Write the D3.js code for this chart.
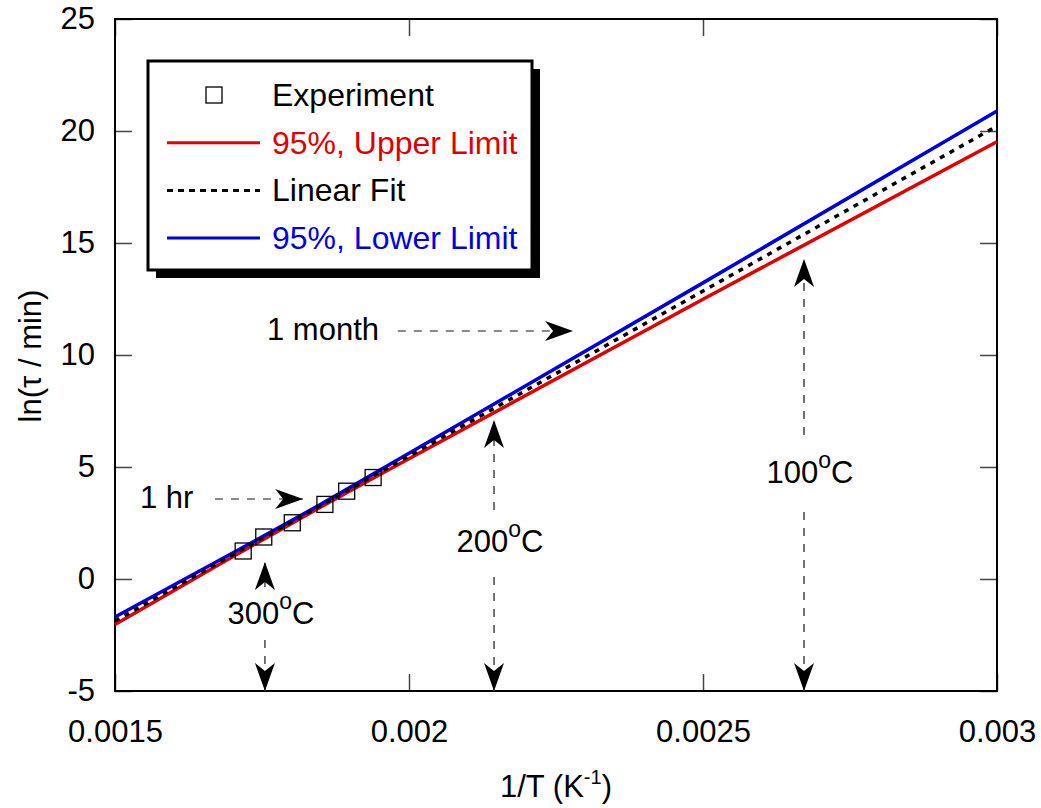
<!DOCTYPE html>
<html>
<head>
<meta charset="utf-8">
<script src="https://cdn.jsdelivr.net/npm/d3@7"></script>
<style>
  body { margin: 0; background: #fff; }
  text { font-family: "Liberation Sans", Arial, sans-serif; }
</style>
</head>
<body>
<div id="chart"></div>
<script>
// experiment points (1/T, ln tau)
const expX = [0.001718, 0.001753, 0.0018015, 0.001857, 0.001894, 0.001939];
const expY = [1.25, 1.875, 2.51, 3.33, 3.92, 4.53];

// fit and 95% bands, read at a few 1/T values
const lineX = [0.0015, 0.0017, 0.00185, 0.002, 0.0025, 0.003];
const upperY = [-2.03, 0.99, 3.22, 5.37, 12.49, 19.52];
const fitY = [-1.875, 1.071, 3.281, 5.49, 12.855, 20.22];
const lowerY = [-1.70, 1.16, 3.34, 5.61, 13.22, 20.89];

const xTicks = [0.0015, 0.002, 0.0025, 0.003];
const yTicks = [-5, 0, 5, 10, 15, 20, 25];

// horizontal annotation arrows
const hArrows = [
    {label: "1 month", textX: 0.0017585, fromX: 0.001981, toX: 0.002279, y: 11.07},
    {label: "1 hr", textX: 0.0015425, fromX: 0.00167, toX: 0.00182, y: 3.57}
];
// vertical annotation arrows (temperature markers)
const vArrows = [
    {temp: "300", x: 0.001755, top: 0.76, gapTop: -0.36, textY: -2.0, gapBottom: -2.72},
    {temp: "200", x: 0.0021446, top: 7.10, gapTop: 3.08, textY: 1.2, gapBottom: 0.09},
    {temp: "100", x: 0.0026718, top: 14.29, gapTop: 6.43, textY: 4.29, gapBottom: 2.99}
];

const legendItems = [
    {label: "Experiment", type: "square", color: "#000"},
    {label: "95%, Upper Limit", type: "line", color: "#e00000", text: "#dd0000"},
    {label: "Linear Fit", type: "dash", color: "#000"},
    {label: "95%, Lower Limit", type: "line", color: "#0000dd", text: "#0000dd"}
];

const margin = {top: 19, right: 44, bottom: 117, left: 115};
const width = 1041 - margin.left - margin.right;
const height = 808 - margin.top - margin.bottom;
const fontSize = 31;

const svg = d3.select("#chart")
              .append("svg")
              .attr("width", 1041)
              .attr("height", 808)
              .append("g")
              .attr("transform", "translate(" + margin.left + "," + margin.top + ")");

const x = d3.scaleLinear().domain([0.0015, 0.003]).range([0, width]);
const y = d3.scaleLinear().domain([-5, 25]).range([height, 0]);

// arrowhead marker
const defs = svg.append("defs");
defs.append("marker")
    .attr("id", "head")
    .attr("viewBox", "0 0 28 20")
    .attr("refX", 28)
    .attr("refY", 10)
    .attr("markerWidth", 28)
    .attr("markerHeight", 20)
    .attr("markerUnits", "userSpaceOnUse")
    .attr("orient", "auto")
    .append("path")
    .attr("d", "M0,0 L28,10 L0,20 L8,10 Z")
    .attr("fill", "#000");

// axes (ticks point inward on all four sides)
const tickLen = 17;
function styleAxis(g) {
    g.select(".domain").remove();
    g.selectAll(".tick line").attr("stroke", "#444").attr("stroke-width", 1.5);
    g.selectAll("text").attr("font-size", fontSize).attr("fill", "#000")
     .style("font-family", "'Liberation Sans', Arial, sans-serif");
}
svg.append("g")
   .attr("transform", "translate(0," + height + ")")
   .call(d3.axisBottom(x).tickValues(xTicks).tickSize(-tickLen).tickPadding(29).tickFormat(d => String(d)))
   .call(styleAxis);
svg.append("g")
   .call(d3.axisTop(x).tickValues(xTicks).tickSize(-tickLen).tickFormat(""))
   .call(styleAxis);
svg.append("g")
   .call(d3.axisLeft(y).tickValues(yTicks).tickSize(-tickLen).tickPadding(20).tickFormat(d => String(d)))
   .call(styleAxis);
svg.append("g")
   .attr("transform", "translate(" + width + ",0)")
   .call(d3.axisRight(y).tickValues(yTicks).tickSize(-tickLen).tickFormat(""))
   .call(styleAxis);

svg.append("rect")
   .attr("width", width)
   .attr("height", height)
   .attr("fill", "none")
   .attr("stroke", "#000")
   .attr("stroke-width", 2);

// axis titles
svg.append("text")
   .attr("x", width / 2)
   .attr("y", height + 106)
   .attr("text-anchor", "middle")
   .attr("font-size", fontSize)
   .text("1/T (K")
   .append("tspan")
   .attr("font-size", 20)
   .attr("dy", -13)
   .text("-1")
   .clone(true)
   .attr("font-size", fontSize)
   .attr("dy", 13)
   .text(")");

svg.append("text")
   .attr("transform", "translate(" + (30 - margin.left) + "," + (356 - margin.top) + ")rotate(-90)")
   .attr("text-anchor", "middle")
   .attr("dy", "0.35em")
   .attr("font-size", fontSize)
   .text("ln(τ / min)");

// lines
const line = d3.line().x(d => x(d[0])).y(d => y(d[1])).curve(d3.curveMonotoneX);
const plot = svg.append("g");
plot.append("path")
    .attr("d", line(d3.zip(lineX, upperY)))
    .attr("fill", "none").attr("stroke", "#e00000").attr("stroke-width", 3.5);
plot.append("path")
    .attr("d", line(d3.zip(lineX, lowerY)))
    .attr("fill", "none").attr("stroke", "#0000dd").attr("stroke-width", 3.5);
plot.append("path")
    .attr("d", line(d3.zip(lineX, fitY)))
    .attr("fill", "none").attr("stroke", "#000").attr("stroke-width", 3.5)
    .attr("stroke-dasharray", "5,6");

// experiment squares
const sq = 16;
plot.selectAll(".pt")
    .data(d3.zip(expX, expY))
    .enter()
    .append("rect")
    .attr("x", d => x(d[0]) - sq / 2)
    .attr("y", d => y(d[1]) - sq / 2)
    .attr("width", sq)
    .attr("height", sq)
    .attr("fill", "none")
    .attr("stroke", "#000")
    .attr("stroke-width", 1.3);

// horizontal arrows
const ann = svg.append("g");
hArrows.forEach(function (a) {
    ann.append("text")
       .attr("x", x(a.textX))
       .attr("y", y(a.y) + 9)
       .attr("font-size", fontSize)
       .text(a.label);
    ann.append("line")
       .attr("x1", x(a.fromX)).attr("x2", x(a.toX))
       .attr("y1", y(a.y)).attr("y2", y(a.y))
       .attr("stroke", "#666").attr("stroke-width", 1.5)
       .attr("stroke-dasharray", "8,8")
       .attr("marker-end", "url(#head)");
});

// vertical arrows
vArrows.forEach(function (a) {
    const px = x(a.x);
    ann.append("line")
       .attr("x1", px).attr("x2", px)
       .attr("y1", y(a.gapTop)).attr("y2", y(a.top))
       .attr("stroke", "#444").attr("stroke-width", 1.5)
       .attr("stroke-dasharray", "8,8")
       .attr("marker-end", "url(#head)");
    ann.append("line")
       .attr("x1", px).attr("x2", px)
       .attr("y1", y(a.gapBottom)).attr("y2", y(-5))
       .attr("stroke", "#444").attr("stroke-width", 1.5)
       .attr("stroke-dasharray", "8,8")
       .attr("marker-end", "url(#head)");
    const t = ann.append("text")
       .attr("x", px + 6)
       .attr("y", y(a.textY))
       .attr("text-anchor", "middle")
       .attr("font-size", fontSize)
       .text(a.temp);
    t.append("tspan").attr("font-size", 23).attr("dy", -15).text("o");
    t.append("tspan").attr("font-size", fontSize).attr("dy", 15).text("C");
});

// legend
const lg = svg.append("g").attr("transform", "translate(" + (148 - margin.left) + "," + (61 - margin.top) + ")");
const lgW = 384, lgH = 209;
lg.append("rect").attr("x", 8).attr("y", 8).attr("width", lgW).attr("height", lgH).attr("fill", "#000");
lg.append("rect").attr("x", 0).attr("y", 0).attr("width", lgW).attr("height", lgH)
  .attr("fill", "#fff").attr("stroke", "#000").attr("stroke-width", 3);

legendItems.forEach(function (d, i) {
    const cy = 34 + i * 47.7;
    const row = lg.append("g").attr("transform", "translate(0," + cy + ")");
    if (d.type === "square") {
        row.append("rect").attr("x", 66 - 8).attr("y", -8).attr("width", 16).attr("height", 16)
           .attr("fill", "none").attr("stroke", "#000").attr("stroke-width", 1.3);
    } else {
        row.append("line").attr("x1", 19).attr("x2", 112).attr("y1", 0).attr("y2", 0)
           .attr("stroke", d.color).attr("stroke-width", 3)
           .attr("stroke-dasharray", d.type === "dash" ? "6,5" : null);
    }
    row.append("text")
       .attr("x", 124)
       .attr("y", 11)
       .attr("font-size", 32)
       .attr("fill", d.text || "#000")
       .text(d.label);
});
</script>
</body>
</html>
